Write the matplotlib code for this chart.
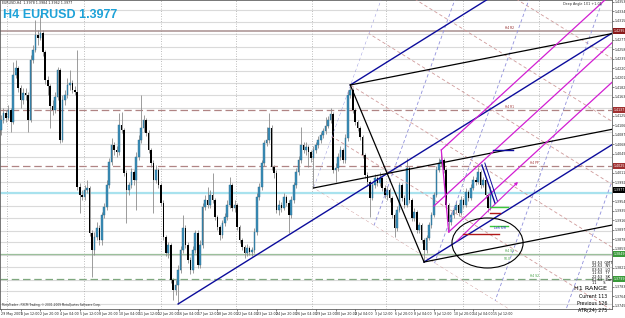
import matplotlib
matplotlib.use("Agg")
import matplotlib.pyplot as plt
import matplotlib.transforms as mtransforms
import numpy as np
from matplotlib.patches import Ellipse, Polygon

# EURUSD H4 candles, prices in points (price * 10000)
first_open = 14097
close_pts = [14117, 14131, 14121, 14137, 14113, 14207, 14221, 14181, 14157, 14171,
             14167, 14117, 14237, 14257, 14287, 14281, 14291, 14253, 14197, 14185,
             14145, 14137, 14163, 14217, 14077, 14157, 14167, 14187, 14191, 14177,
             14173, 13983, 13967, 13963, 13977, 13981, 13891, 13857, 13883, 13901,
             13877, 13927, 13943, 13987, 14033, 14067, 14057, 14053, 14107, 14097,
             14011, 13977, 13987, 14013, 13997, 14043, 14077, 14101, 14117, 14091,
             14057, 14031, 13997, 14017, 13987, 13951, 13883, 13851, 13867, 13797,
             13777, 13787, 13817, 13857, 13901, 13867, 13837, 13817, 13857, 13891,
             13827, 13867, 13943, 13957, 13947, 13967, 13957, 13923, 13903, 13887,
             13911, 13923, 13947, 13987, 13941, 13947, 13903, 13877, 13863, 13851,
             13861, 13853, 13857, 13893, 13963, 13983, 14031, 14071, 14077, 14101,
             14023, 14011, 13937, 13947, 13941, 13963, 13951, 13927, 13957, 13987,
             14013, 14037, 14067, 14057, 14063, 14053, 14041, 14057, 14067, 14077,
             14087, 14095, 14105, 14117, 14129, 14017, 14021, 14043, 14057, 14037,
             14081, 14167, 14177, 14137, 14113, 14101, 14083, 14047, 14007, 13993,
             13961, 13987, 14001, 13991, 14001, 13981, 13967, 13977, 13961, 13927,
             13901, 13937, 13987, 13961, 13947, 14021, 13957, 13921, 13933, 13897,
             13907, 13877, 13857, 13881, 13907, 13927, 13967, 14017, 14031, 14037,
             14017, 13947, 13913, 13927, 13937, 13947, 13931, 13957, 13947, 13973,
             13961, 13981, 13997, 13993, 14013, 13987, 13997, 13967, 13941, 13977]
high_pts = [14127, 14141, 14137, 14147, 14141, 14233, 14237, 14225, 14187, 14181,
            14181, 14173, 14247, 14267, 14317, 14297, 14327, 14297, 14257, 14205,
            14189, 14157, 14173, 14223, 14221, 14167, 14177, 14201, 14217, 14197,
            14185, 14257, 13991, 13977, 13987, 13997, 13985, 13897, 13893, 13913,
            13907, 13933, 13951, 13997, 14041, 14081, 14073, 14065, 14131, 14133,
            14101, 14017, 13993, 14021, 14017, 14053, 14087, 14167, 14127, 14121,
            14097, 14061, 14037, 14027, 14021, 13991, 13957, 13887, 13873, 13871,
            13801, 13797, 13827, 13865, 13927, 13907, 13873, 13843, 13865, 13897,
            13897, 13877, 13951, 13967, 13983, 13977, 14011, 13961, 13927, 13907,
            13917, 13931, 13957, 14003, 13991, 13957, 13951, 13907, 13881, 13867,
            13869, 13865, 13863, 13901, 13971, 13991, 14037, 14077, 14103, 14131,
            14107, 14027, 14017, 13957, 13953, 13971, 13967, 13957, 13965, 13993,
            14021, 14045, 14103, 14073, 14073, 14067, 14057, 14065, 14073, 14085,
            14093, 14101, 14123, 14125, 14141, 14133, 14031, 14051, 14065, 14061,
            14089, 14177, 14187, 14181, 14141, 14117, 14105, 14087, 14051, 14013,
            13997, 13993, 14009, 14005, 14013, 14005, 13987, 13985, 13981, 13965,
            13931, 13945, 13993, 13991, 13967, 14041, 14025, 13961, 13941, 13937,
            13913, 13911, 13881, 13887, 13913, 13933, 13973, 14025, 14041, 14057,
            14041, 14021, 13951, 13933, 13945, 13955, 13951, 13965, 13961, 13981,
            13977, 13989, 14005, 14003, 14023, 14017, 14003, 14001, 13971, 13985]
low_pts = [14087, 14111, 14113, 14117, 14093, 14109, 14201, 14173, 14141, 14149,
           14157, 14093, 14113, 14231, 14253, 14267, 14277, 14245, 14189, 14167,
           14101, 14127, 14131, 14157, 14071, 14073, 14147, 14161, 14177, 14171,
           14167, 13977, 13931, 13957, 13957, 13971, 13885, 13803, 13847, 13877,
           13867, 13867, 13921, 13937, 13981, 14027, 14047, 14043, 14047, 14091,
           14005, 13911, 13967, 13981, 13987, 13937, 14037, 14071, 14093, 14085,
           14051, 14023, 13931, 13991, 13981, 13945, 13877, 13845, 13841, 13791,
           13757, 13767, 13749, 13811, 13851, 13861, 13831, 13809, 13811, 13851,
           13821, 13821, 13861, 13937, 13941, 13941, 13951, 13917, 13897, 13877,
           13881, 13905, 13917, 13941, 13935, 13933, 13897, 13871, 13857, 13841,
           13845, 13847, 13845, 13851, 13887, 13957, 13977, 14025, 14065, 14071,
           14017, 14001, 13931, 13927, 13933, 13937, 13945, 13891, 13921, 13951,
           13981, 14007, 14031, 14051, 14047, 14023, 14033, 13981, 14051, 14061,
           14071, 14081, 14089, 14101, 14111, 14011, 13993, 14015, 14037, 14031,
           14031, 14075, 14161, 14131, 14107, 14095, 14077, 14041, 14001, 13985,
           13923, 13957, 13981, 13985, 13985, 13975, 13961, 13957, 13953, 13921,
           13883, 13895, 13933, 13955, 13941, 13943, 13951, 13915, 13915, 13891,
           13891, 13871, 13833, 13851, 13877, 13901, 13923, 13963, 14013, 14025,
           14011, 13941, 13893, 13907, 13921, 13931, 13925, 13927, 13941, 13943,
           13955, 13957, 13977, 13987, 13989, 13981, 13983, 13961, 13933, 13937]

time_labels = ["29 May 2009", "1 Jun 12:00", "2 Jun 20:00", "4 Jun 04:00", "5 Jun 12:00",
               "8 Jun 20:00", "10 Jun 04:00", "11 Jun 12:00", "12 Jun 20:00", "16 Jun 04:00",
               "17 Jun 12:00", "18 Jun 20:00", "22 Jun 04:00", "23 Jun 12:00", "24 Jun 20:00",
               "26 Jun 04:00", "29 Jun 12:00", "30 Jun 20:00", "2 Jul 04:00", "3 Jul 12:00",
               "6 Jul 20:00", "8 Jul 04:00", "9 Jul 12:00", "10 Jul 20:00", "14 Jul 04:00",
               "15 Jul 12:00"]
time_ticks = list(range(0, 201, 8))
vgrid_bars = [2.4, 33.9, 65, 95.5, 126.4, 156.5, 187.8, 218.7]

# light "round number" levels
round_levels = [1.4337, 1.4313, 1.4288, 1.4264, 1.4239, 1.4215, 1.4190, 1.4166, 1.4141,
                1.4117, 1.4092, 1.4068, 1.4043, 1.4019, 1.3994, 1.3970, 1.3945, 1.3921,
                1.3896, 1.3872, 1.3847, 1.3823, 1.3798, 1.3774, 1.3749]

# horizontal levels: price, colour, style, width, tag, axis box colour
levels = [(1.4295, "#a89090", "-", 1.1, "H4 R2", "#8b1a1a"),
          (1.4137, "#b08484", (0, (6, 3)), 0.9, "H4 R1", "#a03030"),
          (1.4025, "#b08484", (0, (6, 3)), 0.9, "H4 PP", "#a03030"),
          (1.3971, "#a8e2ee", "-", 1.6, "", None),
          (1.3849, "#9cc09c", "-", 0.9, "H4 S1", "#3a9a3a"),
          (1.3799, "#7fa87f", (0, (6, 3)), 0.9, "H4 S2", "#3a9a3a")]

# pivots (bar, price)
p1_blue = (72, 1.3749)
p1_black = (127, 1.3981)
p2 = (142, 1.4187)
p3 = (172, 1.3833)
m2 = (179, 1.4057)
m3 = (182, 1.3893)
mag_median = [(176, 1.3945), (227, 1.4175)]

session_rows = ["02:53  GMT", "22:53   NY", "03:53   LO", "11:53   TY", "22:53   SK",
                "02:53   Bar", "11      S"]
range_rows = ["Current 113", "Previous 126", "ATR(24) 275"]

o = np.r_[first_open, close_pts[:-1]] / 10000
c = np.array(close_pts) / 10000
h = np.array(high_pts) / 10000
l = np.array(low_pts) / 10000
bars = np.arange(len(c))

XMIN, XMAX = -0.4, 248.4
YMIN, YMAX = 1.3739, 1.4357

fig = plt.figure(figsize=(6.25, 3.18), dpi=100)
ax = fig.add_axes([0, 9 / 318, 612 / 625, 309 / 318])
ax.set_xlim(XMIN, XMAX)
ax.set_ylim(YMIN, YMAX)

for lv in round_levels:
    ax.axhline(lv, color="#dadada", lw=0.8, zorder=1)
for b in vgrid_bars:
    ax.axvline(b, color="#a8a8a8", lw=0.6, ls=(0, (1, 2)), zorder=1)
for price, col, ls, lw, tag, boxcol in levels:
    ax.axhline(price, color=col, lw=lw, ls=ls, zorder=1)

# candles
up = c >= o
body = np.maximum(np.abs(c - o), 0.00008)
ax.vlines(bars, l, h, color="#8c8c8c", lw=0.6, zorder=2)
ax.bar(bars[up], body[up], bottom=o[up], width=0.66, color="#3a8fba",
       edgecolor="#2a6888", lw=0.3, zorder=3)
ax.bar(bars[~up], body[~up], bottom=c[~up], width=0.66, color="black", zorder=3)


def ray(start, slope, **kw):
    b0, p0 = start
    ax.plot([b0, XMAX], [p0, p0 + slope * (XMAX - b0)], zorder=5, **kw)


# gann style grid anchored on black fork handle
pink_slope = -0.000305
lav_slope = (p2[1] - p1_black[1]) / (p2[0] - p1_black[0])
pink_step = (p2[1] - pink_slope * (p2[0] - p1_black[0]) - p1_black[1]) / 2
lav_step = 30.1
b_pts = np.array([100, 260])
clip = Polygon([p1_black, (p1_black[0] + 200, p1_black[1] + lav_slope * 200),
                (400, p1_black[1] + lav_slope * 200),
                (400, p1_black[1] + pink_slope * (400 - p1_black[0]))],
               closed=True, transform=ax.transData)
for k in range(6):
    ln, = ax.plot(b_pts, p1_black[1] + k * pink_step + pink_slope * (b_pts - p1_black[0]),
                  color="#cf9a9a", lw=0.6, ls=(0, (4, 3)), zorder=4)
    ln.set_clip_path(clip)
for j in range(5):
    ln, = ax.plot(b_pts, p1_black[1] + lav_slope * (b_pts - p1_black[0] - j * lav_step),
                  color="#8f8fdc", lw=0.6, ls=(0, (4, 3)), zorder=4)
    ln.set_clip_path(clip)

# blue fork
mid = ((p2[0] + p3[0]) / 2, (p2[1] + p3[1]) / 2)
s_blue = (mid[1] - p1_blue[1]) / (mid[0] - p1_blue[0])
for pt in (p1_blue, p2, p3):
    ray(pt, s_blue, color="#0c0c9c", lw=1.0)

# black fork
s_black = (mid[1] - p1_black[1]) / (mid[0] - p1_black[0])
for pt in (p1_black, p2, p3):
    ray(pt, s_black, color="black", lw=0.9)
ax.plot([p2[0], p3[0]], [p2[1], p3[1]], color="black", lw=0.9, zorder=5)

# magenta fork
s_mag = (mag_median[1][1] - mag_median[0][1]) / (mag_median[1][0] - mag_median[0][0])
for pt in (mag_median[0], m2, m3):
    ray(pt, s_mag, color="#d21ed2", lw=0.9)
ax.plot([m2[0], m3[0]], [m2[1], m3[1]], color="#d21ed2", lw=0.9, zorder=5)
ax.annotate("", xy=(211, 1.3997), xytext=(184.5, 1.3871),
            arrowprops=dict(arrowstyle="-|>", color="#d21ed2", lw=0.8,
                            mutation_scale=4), zorder=5)

# small marks near the last bars
ax.plot([200, 208], [1.4057, 1.4057], color="#0c0c9c", lw=1.0, zorder=5)
ax.plot([195.5, 200.8], [1.4027, 1.3951], color="#0c0c9c", lw=1.0, zorder=5)
ax.plot([196.7, 201.8], [1.4031, 1.3955], color="#0c0c9c", lw=0.7, zorder=5)
ax.plot([198.8, 206], [1.3943, 1.3943], color="#3cc83c", lw=1.0, zorder=5)
ax.plot([198.8, 206], [1.3905, 1.3905], color="#3cc83c", lw=1.0, zorder=5)
ax.plot([198.8, 202.8], [1.3931, 1.3931], color="#b01818", lw=1.0, zorder=5)
ax.plot([187.8, 202.4], [1.3889, 1.3889], color="#b01818", lw=1.0, zorder=5)
ax.text(200.5, 1.3897, "Left S/H", fontsize=2.2, color="#2020c0", va="bottom", zorder=6)
ax.text(204.5, 1.3836, "50.0", fontsize=2.2, color="#3a9a3a", zorder=6)
ax.add_patch(Ellipse((197.8, 1.3871), 28.9, 0.0100, fill=False, ec="black", lw=0.8, zorder=5))

# level tags
tag_bars = [205, 205, 215, 0, 205, 215]
for (price, col, ls, lw, tag, boxcol), tb in zip(levels, tag_bars):
    if tag:
        ax.text(tb, price + 0.0002, tag, fontsize=2.2, color=boxcol, va="bottom", zorder=6)

# axes look
for sp in ax.spines.values():
    sp.set_color("#606060")
    sp.set_linewidth(0.6)
ax.yaxis.tick_right()
boxed = [lv[0] for lv in levels if lv[5]] + [c[-1]]
yt = [v for v in np.arange(1.3745, 1.4357, 0.0019)
      if min(abs(v - bp) for bp in boxed) > 0.0010]
ax.set_yticks(yt)
ax.set_yticklabels(["%.4f" % v for v in yt])
ax.set_xticks(time_ticks)
ax.set_xticklabels(time_labels, ha="left")
ax.tick_params(axis="both", length=1.5, width=0.4, pad=0.5, labelsize=2.3, colors="#202020")

trans = mtransforms.blended_transform_factory(ax.transAxes, ax.transData)
for price, col, ls, lw, tag, boxcol in levels:
    if boxcol:
        ax.text(1.002, price, "%.4f" % price, transform=trans, fontsize=2.3, color="white",
                va="center", ha="left", zorder=7,
                bbox=dict(fc=boxcol, ec="none", pad=0.5))
ax.text(1.002, c[-1], "%.4f" % c[-1], transform=trans, fontsize=2.3, color="white",
        va="center", ha="left", zorder=7, bbox=dict(fc="black", ec="none", pad=0.5))

# header & info texts
fig.text(0.004, 1 - 3.5 / 318, "EURUSD,H4  1.3978 1.3984 1.3962 1.3977", fontsize=2.3,
         va="center", color="#202020")
fig.text(0.005, 1 - 14.5 / 318, "H4 EURUSD 1.3977", fontsize=9, fontweight="bold",
         color="#1ea2d8", va="center", family="Liberation Sans")
fig.text(0.004, 13 / 318, "MetaTrader - FXCM Trading, \u00a9 2001-2009 MetaQuotes Software Corp.",
         fontsize=2.1, va="center", color="#303030")
fig.text(0.963, 1 - 4 / 318, "Deep Angle 1X1 +1.01", fontsize=2.4, ha="right", va="center",
         color="#303030")
for i, row in enumerate(session_rows):
    fig.text(0.947, 1 - (263 + 3.4 * i) / 318, row, fontsize=2.5, ha="left", va="center")
fig.text(0.972, 1 - 289 / 318, "H1 RANGE", fontsize=4.6, ha="right", va="center")
for i, row in enumerate(range_rows):
    fig.text(0.972, 1 - (296.5 + 7 * i) / 318, row, fontsize=3.4, ha="right", va="center")

fig.savefig("out.png", dpi=100, facecolor="white")
